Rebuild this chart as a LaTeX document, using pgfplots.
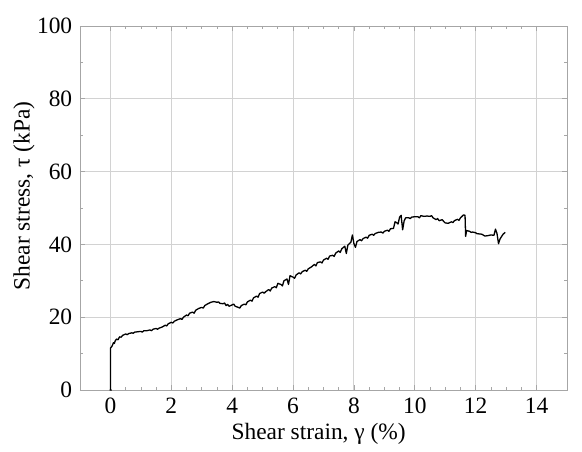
\documentclass[border=0pt]{standalone}
\usepackage{pgfplots}
\pgfplotsset{compat=1.18}
\usepackage{fontspec}
\setmainfont{Liberation Serif}
\begin{document}
\fontsize{23}{27}\selectfont
\begin{tikzpicture}
\begin{axis}[
  scale only axis, width=487bp, height=364bp,
  at={(0,0)}, anchor=south west,
  xmin=-1, xmax=15, ymin=0, ymax=100,
  xtick={0,2,...,14}, ytick={0,20,...,100},
  minor x tick num=3, minor y tick num=1,
  tick align=inside, ticks=both,
  xtick pos=both, ytick pos=both,
  major tick length=5bp, minor tick length=3bp,
  grid=major,
  major grid style={gray!35, line width=0.9bp},
  axis line style={gray!70, line width=0.9bp},
  every tick/.style={gray!70, line width=0.7bp},
  /pgf/number format/assume math mode=true,
  ticklabel style={font=\fontsize{23.5}{27}\selectfont},
  xlabel={Shear strain, γ (\%)},
  ylabel={Shear stress, τ (kPa)},
  xlabel style={at={(axis description cs:0.49,-0.135)}, anchor=base, font=\fontsize{23.5}{27}\selectfont},
  ylabel style={at={(axis description cs:-0.115,0.533)}, anchor=center, font=\fontsize{23.5}{27}\selectfont},
]
\addplot[black, line width=1.3bp, line join=round] coordinates {
(-0.03,0)(0.03,0)(0,0)(0.0,11.5)(0.05,12.0)(0.08,12.6)(0.1,13)(0.13,12.8)(0.15,13.4)(0.2,14.0)(0.25,13.8)(0.3,14.6)(0.35,14.5)(0.4,15.0)(0.5,15.4)(0.55,15.2)(0.6,15.5)(0.7,15.7)(0.75,15.6)(0.8,15.9)(0.9,16.0)(1.0,16.1)(1.05,15.9)(1.1,16.3)(1.2,16.3)(1.3,16.5)(1.35,16.3)(1.4,16.7)(1.5,16.9)(1.55,16.7)(1.6,17.0)(1.7,17.3)(1.8,17.8)(1.85,17.6)(1.9,18.2)(2.0,18.6)(2.05,18.4)(2.1,18.9)(2.2,19.3)(2.3,19.6)(2.35,19.4)(2.4,20.0)(2.5,20.6)(2.55,20.4)(2.6,21.1)(2.7,21.4)(2.75,21.1)(2.8,21.9)(2.9,22.4)(3.0,22.7)(3.05,22.5)(3.1,23.2)(3.2,23.7)(3.3,24.1)(3.4,24.3)(3.5,24.1)(3.55,24.2)(3.6,23.8)(3.7,23.7)(3.75,23.9)(3.8,23.2)(3.85,23.5)(3.9,23.0)(4.0,23.4)(4.05,23.6)(4.1,23.0)(4.2,22.7)(4.25,22.5)(4.3,23.2)(4.4,23.6)(4.45,23.4)(4.5,24.2)(4.6,24.7)(4.65,24.4)(4.7,25.3)(4.8,25.8)(4.85,25.5)(4.9,26.5)(5.0,26.9)(5.05,26.6)(5.1,27.0)(5.2,27.6)(5.25,27.2)(5.3,28.0)(5.4,28.4)(5.45,28.1)(5.5,29.3)(5.6,29.0)(5.65,28.6)(5.7,30.0)(5.8,30.5)(5.85,29.0)(5.9,31.4)(6.0,31.0)(6.05,30.7)(6.1,31.6)(6.2,32.2)(6.25,31.9)(6.3,32.5)(6.4,32.9)(6.45,32.6)(6.5,33.3)(6.6,33.8)(6.7,34.5)(6.75,34.1)(6.8,35.0)(6.9,35.2)(6.95,34.9)(7.0,35.7)(7.1,36.2)(7.15,35.9)(7.2,36.8)(7.3,37.0)(7.35,36.7)(7.4,37.6)(7.5,38.2)(7.55,37.8)(7.6,38.8)(7.7,39.5)(7.75,37.5)(7.8,39.8)(7.9,40.6)(7.95,42.6)(8.0,40.2)(8.05,39.2)(8.1,40.8)(8.2,41.3)(8.25,41.0)(8.3,41.6)(8.4,42.0)(8.45,41.7)(8.5,42.5)(8.6,42.8)(8.65,42.5)(8.7,43.0)(8.8,43.3)(8.9,43.4)(8.95,43.1)(9.0,43.6)(9.1,43.9)(9.15,43.6)(9.2,44.3)(9.3,44.4)(9.35,46.2)(9.4,46.0)(9.45,45.6)(9.5,47.5)(9.55,48.0)(9.6,44.0)(9.65,46.5)(9.7,47.3)(9.8,47.3)(9.85,47.1)(9.9,47.5)(10.0,47.6)(10.1,47.6)(10.15,47.3)(10.2,47.9)(10.3,47.7)(10.4,47.8)(10.5,47.7)(10.55,47.9)(10.6,47.3)(10.7,46.8)(10.75,47.1)(10.8,46.5)(10.9,46.8)(10.95,46.3)(11.0,45.9)(11.1,45.8)(11.2,46.2)(11.25,46.0)(11.3,46.5)(11.4,46.9)(11.45,46.6)(11.5,47.3)(11.6,48.1)(11.65,48.0)(11.67,42.2)(11.7,43.8)(11.8,43.6)(11.85,43.3)(11.9,43.4)(12.0,43.2)(12.05,42.9)(12.1,42.9)(12.2,42.8)(12.3,42.3)(12.4,42.4)(12.5,42.6)(12.6,42.5)(12.65,44.2)(12.7,43.0)(12.75,40.2)(12.8,41.5)(12.9,42.8)(12.97,43.3)
};
\end{axis}
\useasboundingbox (-80bp,-53bp) rectangle (502bp,390bp);
\end{tikzpicture}
\end{document}
